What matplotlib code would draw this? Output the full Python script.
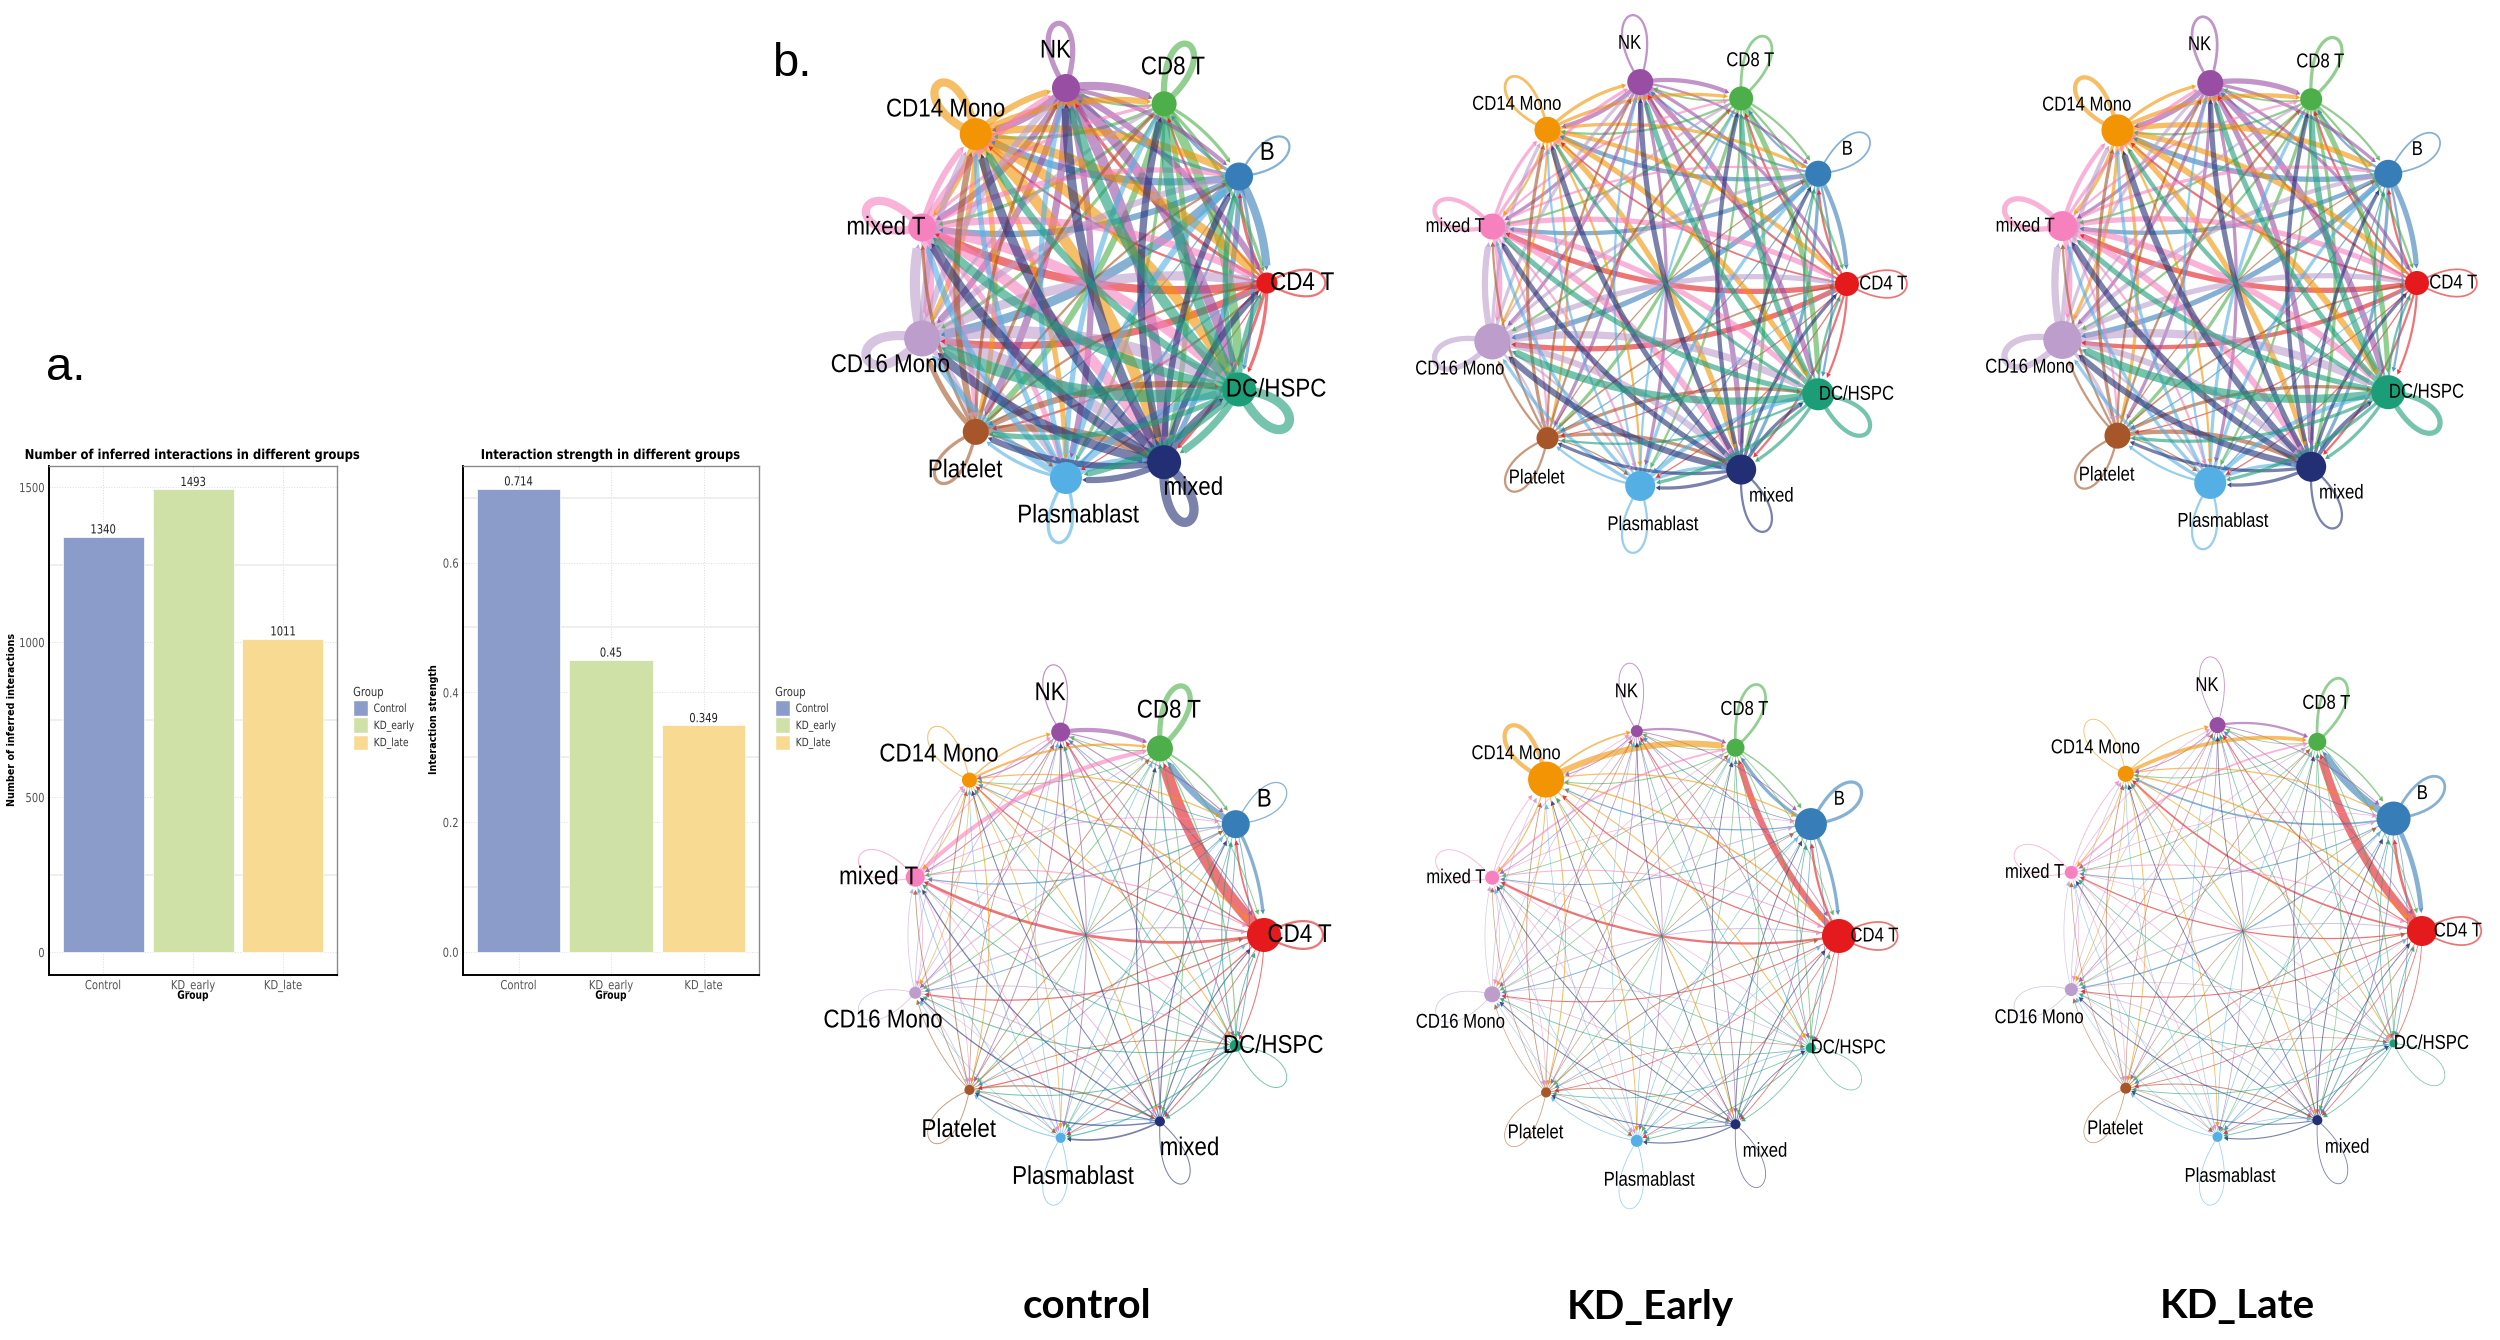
import numpy as np
import matplotlib
matplotlib.use('Agg')
import matplotlib.pyplot as plt
from matplotlib.patches import Ellipse, Patch, PathPatch
from matplotlib.path import Path
from matplotlib.patheffects import AbstractPathEffect
from matplotlib.transforms import Affine2D

W, H = 2500, 1340

groups = ['Control', 'KD_early', 'KD_late']
group_colors = ['#8B9CCB', '#D0E1A7', '#F8DA93']
n_interactions = [1340, 1493, 1011]
strength = [0.714, 0.45, 0.349]

cells = ['CD4 T', 'B', 'CD8 T', 'NK', 'CD14 Mono', 'mixed T', 'CD16 Mono',
         'Platelet', 'Plasmablast', 'mixed', 'DC/HSPC']
cell_colors = ['#E41A1C', '#377EB8', '#4DAF4A', '#984EA3', '#F29403', '#F781BF',
               '#BC9DCC', '#A65628', '#54B0E4', '#222F75', '#1B9E77']

# edge widths, rows = source, columns = target, diagonal = loop
count_control = [
    [2, 3, 2, 3, 2, 8, 7, 2, 1, 3, 3],
    [8, 2, 3, 3, 7, 6, 9, 1, 2, 5, 3],
    [3, 3, 6, 2, 3, 3, 3, 6, 3, 5, 9],
    [6, 4, 8, 5, 7, 6, 6, 7, 6, 10, 10],
    [9, 7, 6, 6, 8, 5, 5, 5, 5, 11, 10],
    [7, 5, 3, 6, 6, 8, 9, 5, 5, 11, 10],
    [9, 6, 3, 6, 6, 10, 9, 5, 5, 11, 12],
    [2, 2, 3, 3, 6, 3, 5, 3, 2, 7, 6],
    [2, 6, 5, 5, 5, 6, 6, 3, 3, 6, 7],
    [6, 6, 7, 9, 9, 9, 9, 6, 6, 9, 7],
    [5, 5, 10, 10, 7, 9, 12, 5, 6, 7, 9],
]
count_early = [
    [1.5, 2, 2, 2, 1.5, 5, 5, 1, 1, 2, 2],
    [4, 1.5, 2, 2, 4, 4, 5, 1, 1, 3, 2],
    [2, 2, 2.5, 1.5, 2, 2, 2, 3, 2, 3, 5],
    [3, 2, 4, 2, 4, 3, 3, 3, 3, 5, 5],
    [4, 3, 3, 3, 2.5, 2, 2, 2, 2, 5, 5],
    [5, 2, 2, 3, 3, 4, 5, 2, 2, 6, 5],
    [5, 3, 2, 3, 3, 6, 5, 2, 2, 6, 7],
    [1.5, 1, 2, 2, 3, 2, 2, 2, 1, 3, 3],
    [1, 3, 2, 2, 2, 3, 3, 2, 2, 3, 4],
    [3, 3, 4, 5, 5, 5, 6, 3, 3, 2, 3],
    [2, 2, 5, 5, 3, 5, 7, 2, 3, 3, 4],
]
count_late = [
    [1.5, 2, 2, 2, 2, 5, 4, 1, 1, 2, 2],
    [5, 1.5, 2, 2, 5, 4, 5, 1, 1, 3, 2],
    [2, 2, 3, 1.5, 2, 2, 2, 3, 2, 3, 5],
    [3, 3, 5, 2.5, 5, 3, 3, 3, 3, 5, 6],
    [5, 5, 4, 3, 4, 3, 3, 3, 2, 5, 6],
    [5, 3, 2, 3, 4, 5, 5, 2, 2, 6, 6],
    [5, 4, 2, 3, 4, 7, 6, 3, 2, 6, 8],
    [1.5, 1, 2, 2, 3, 2, 2, 2, 1, 4, 3],
    [1, 3, 3, 2, 3, 3, 3, 2, 2, 3, 4],
    [3, 3, 4, 5, 6, 6, 6, 3, 3, 2, 4],
    [2, 2, 6, 5, 4, 5, 8, 3, 3, 3, 5],
]
weight_control = [
    [2, 1.5, 11, 1, 1, 2.5, 1, 1, .6, .8, .8],
    [3, 1, 6, .6, .8, 1, .7, .5, .5, .7, .7],
    [.7, 1.5, 5, .7, .7, .7, .7, .6, .6, .7, .9],
    [.9, .9, 4, 1, 1, .8, .7, .7, .7, .9, .7],
    [1.2, 1, 2, 1.2, .8, .7, .5, .8, .6, .7, .8],
    [1, .7, 4, .7, .7, .8, .5, .5, .5, .7, .6],
    [1, 1, .6, .7, .6, .5, .5, .6, .4, .8, .7],
    [1, .6, .7, .5, .8, .6, .6, .7, .4, 1.2, .6],
    [.6, .6, .6, .5, .5, .6, .4, .8, .6, .7, .8],
    [.9, .9, .8, .9, .7, 1, 1, 1.2, 1.5, .8, .8],
    [.8, .9, .9, .7, .7, .7, .8, .8, 1, .8, .7],
]
weight_early = [
    [1.5, 2, 6, .8, 1, 2, .8, .6, .5, .6, .6],
    [3, 3, 3, .6, 1, .8, .7, .4, .5, .6, .5],
    [.6, 1.2, 2.5, .6, .8, .6, .5, .5, .5, .5, .7],
    [.6, .7, 2, .7, .7, .5, .5, .5, .5, .6, .5],
    [1.2, 1, 6, 1.5, 4, 1, .7, .8, .7, .8, .8],
    [.8, .5, 1.5, .5, .6, .6, .4, .4, .4, .5, .4],
    [.8, .8, .5, .5, .5, .4, .5, .4, .4, .6, .5],
    [.8, .4, .5, .4, .6, .4, .4, .5, .3, .8, .4],
    [.4, .5, .5, .4, .4, .4, .3, .5, .5, .5, .6],
    [.7, .7, .6, .6, .6, .7, .7, .8, 1, .6, .6],
    [.6, .6, .6, .5, .5, .5, .6, .6, .7, .6, .5],
]
weight_late = [
    [1.5, 2.5, 8, .8, 1.5, 1, .8, .5, .5, .6, .6],
    [4.5, 2.5, 7, .7, 1.5, .8, 1, .5, .6, .8, .6],
    [.6, 1.2, 2.5, .6, .7, .6, .5, .5, .5, .5, .7],
    [.6, .7, 2, .6, .7, .5, .5, .5, .4, .6, .5],
    [1.2, 1, 3.5, .8, .6, .6, .5, .7, .6, .7, .7],
    [.8, .5, 1.5, .5, .6, .6, .4, .4, .4, .5, .4],
    [.8, .8, .5, .5, .5, .4, .5, .4, .4, .6, .5],
    [.8, .4, .5, .4, .6, .4, .4, .5, .3, .8, .4],
    [.4, .5, .5, .4, .4, .4, .3, .5, .5, .5, .6],
    [.7, .7, .6, .6, .6, .7, .7, .8, .9, .6, .6],
    [.6, .6, .6, .5, .5, .5, .6, .6, .7, .6, .5],
]

node_count_control = [10.5, 14, 12.5, 14, 16, 14, 18, 13, 16, 17, 17]
node_count_early = [12, 13, 12, 13, 13, 13, 18, 11, 15, 15, 16]
node_count_late = [12, 14, 11, 13, 16, 15, 19, 13, 16, 15, 17]
node_weight_control = [17, 14, 13, 9.5, 7.5, 9.5, 6, 5, 5, 5, 6]
node_weight_early = [17, 16, 9, 6, 18, 7, 8, 5, 6, 5, 5]
node_weight_late = [15, 17, 9, 8, 8, 6.5, 6.5, 5.5, 5, 5, 4]

# label position relative to its node, in circle units
label_dx = [.20, .16, .05, -.06, -.17, -.205, -.18, -.06, .07, .167, .21]
label_dy = [0, .12, .185, .19, .125, 0, -.135, -.195, -.19, -.13, 0]

plt.rcParams['font.family'] = 'DejaVu Sans'
fig = plt.figure(figsize=(W / 100, H / 100), dpi=100, facecolor='white')


class Squeeze(AbstractPathEffect):
    # the source picture was stretched, so the glyphs are narrower than any installed font
    def __init__(self, sx, anchor='center'):
        super().__init__()
        self.sx = sx
        self.anchor = anchor

    def draw_path(self, renderer, gc, tpath, affine, rgbFace=None):
        ext = tpath.get_extents()
        x = {'left': ext.x0, 'right': ext.x1, 'center': (ext.x0 + ext.x1) / 2}[self.anchor]
        squeeze = Affine2D().translate(-x, 0).scale(self.sx, 1).translate(x, 0)
        renderer.draw_path(gc, tpath, squeeze + affine, rgbFace)


def px_axes(x0, y0, x1, y1):
    return fig.add_axes([x0 / W, 1 - y1 / H, (x1 - x0) / W, (y1 - y0) / H])


def bar_panel(box, values, ylim, major, minor, title, ylabel, title_x, ylab_x, legend_x):
    ax = px_axes(*box)
    xs = np.arange(1, 4)
    ax.bar(xs, values, width=0.9, color=group_colors, edgecolor='white', linewidth=0.5, zorder=3)
    ax.set_xlim(0.4, 3.6)
    ax.set_ylim(*ylim)
    ax.set_xticks(xs, groups)
    ax.set_yticks(major)
    ax.set_yticks(minor, minor=True)
    ax.yaxis.set_major_formatter(lambda v, p: f'{v:g}' if major[-1] > 10 else f'{v:.1f}')
    ax.tick_params(which='both', length=0)
    ax.tick_params(axis='both', labelsize=9, labelcolor='#555555', pad=3)
    for lab in ax.get_xticklabels():
        lab.set_path_effects([Squeeze(0.8)])
    for lab in ax.get_yticklabels():
        lab.set_path_effects([Squeeze(0.8, 'right')])
    ax.grid(axis='y', which='minor', color='#ececec', lw=1.2, zorder=0)
    ax.grid(axis='y', which='major', color='#dddddd', lw=0.7, ls=':', zorder=0)
    ax.grid(axis='x', which='major', color='#dddddd', lw=0.7, ls=':', zorder=0)
    for s in ['top', 'right']:
        ax.spines[s].set_color('#8a8a8a')
        ax.spines[s].set_linewidth(1.0)
    for s in ['left', 'bottom']:
        ax.spines[s].set_color('black')
        ax.spines[s].set_linewidth(1.4)
    for x, v in zip(xs, values):
        ax.annotate(f'{v:g}', (x, v), xytext=(0, 0.2), textcoords='offset points', ha='center',
                    va='bottom', fontsize=9, color='#222222', path_effects=[Squeeze(0.8)])
    ax.set_xlabel('Group', fontsize=8.2, fontweight='bold', labelpad=-1, path_effects=[Squeeze(0.8)])
    fig.text(ylab_x / W, 1 - 719 / H, ylabel, rotation=90, fontsize=6.9, fontweight='bold',
             ha='center', va='center')
    fig.text(title_x / W, 1 - 455 / H, title, fontsize=9.8, fontweight='bold', ha='center',
             va='center', path_effects=[Squeeze(0.85)])
    handles = [Patch(facecolor=c, edgecolor='white') for c in group_colors]
    leg = ax.legend(handles, groups, title='Group', frameon=False, fontsize=8.2, title_fontsize=9,
                    loc='upper left', bbox_to_anchor=(legend_x / W, 1 - 686 / H),
                    bbox_transform=fig.transFigure, handlelength=1.3, handleheight=1.75,
                    labelspacing=0.12, handletextpad=0.5, borderpad=0, borderaxespad=0,
                    alignment='left')
    for t in leg.get_texts():
        t.set_color('#333333')
        t.set_path_effects([Squeeze(0.8, 'left')])
    leg.get_title().set_color('#333333')
    leg.get_title().set_path_effects([Squeeze(0.8, 'left')])
    return ax


bar_panel((49, 466, 337, 975), n_interactions, (-74, 1568), [0, 500, 1000, 1500], [250, 750, 1250],
          'Number of inferred interactions in different groups', 'Number of inferred interactions',
          193, 12, 353)
bar_panel((463, 466, 759, 975), strength, (-0.0358, 0.749), [0, 0.2, 0.4, 0.6], [0.1, 0.3, 0.5, 0.7],
          'Interaction strength in different groups', 'Interaction strength', 611, 434, 775)

angles = 2 * np.pi * np.arange(len(cells)) / len(cells)
ux, uy = np.cos(angles), np.sin(angles)


def circle_panel(cx, cy, rx, ry, widths, node_r, label_size, label_sx):
    lim = 1.45
    ax = px_axes(cx - lim * rx, cy - lim * ry, cx + lim * rx, cy + lim * ry)
    ax.set_xlim(-lim, lim)
    ax.set_ylim(-lim, lim)
    ax.axis('off')
    widths = np.array(widths, dtype=float)
    t = np.linspace(0, 1, 80)
    n = len(cells)
    for i in range(n):
        # self loop, a petal pointing away from the centre
        a = angles[i]
        L, d = 0.5, np.radians(28)
        verts = [(ux[i], uy[i]),
                 (ux[i] + L * np.cos(a + d), uy[i] + L * np.sin(a + d)),
                 (ux[i] + L * np.cos(a - d), uy[i] + L * np.sin(a - d)),
                 (ux[i], uy[i])]
        ax.add_patch(PathPatch(Path(verts, [Path.MOVETO, Path.CURVE4, Path.CURVE4, Path.CURVE4]),
                               fc='none', ec=cell_colors[i], lw=(widths[i, i] + 0.25) * 0.72,
                               alpha=0.6, zorder=1))
        for j in range(n):
            if i == j:
                continue
            p0 = np.array([ux[i], uy[i]])
            p2 = np.array([ux[j], uy[j]])
            d_vec = p2 - p0
            # bow to the left of the travel direction, near-opposite edges then cross at the centre
            ctrl = (p0 + p2) / 2 + 0.145 * np.array([-d_vec[1], d_vec[0]])
            xs = (1 - t) ** 2 * p0[0] + 2 * t * (1 - t) * ctrl[0] + t ** 2 * p2[0]
            ys = (1 - t) ** 2 * p0[1] + 2 * t * (1 - t) * ctrl[1] + t ** 2 * p2[1]
            head = 0.024
            r_u = node_r[j] / rx
            keep = np.hypot(xs - p2[0], ys - p2[1]) > r_u + head
            xs, ys = xs[keep], ys[keep]
            ax.plot(xs, ys, color=cell_colors[i], lw=(widths[i, j] + 0.25) * 0.72, alpha=0.6,
                    solid_capstyle='butt', zorder=2)
            # small arrow head on the target node
            tip = np.array([xs[-1], ys[-1]])
            back = np.array([xs[-4], ys[-4]])
            dirn = (tip - back) / np.hypot(*(tip - back))
            nrm = np.array([-dirn[1], dirn[0]])
            tri = np.array([tip + dirn * head, tip + nrm * head * 0.55, tip - nrm * head * 0.55])
            ax.fill(tri[:, 0], tri[:, 1], color=cell_colors[i], alpha=0.85, lw=0, zorder=2.5)
    for i in range(n):
        ax.add_patch(Ellipse((ux[i], uy[i]), 2 * node_r[i] / rx, 2 * node_r[i] / ry,
                             fc=cell_colors[i], ec='none', zorder=3))
        ax.text(ux[i] + label_dx[i], uy[i] + label_dy[i], cells[i], fontsize=label_size,
                family='Liberation Sans', color='black', ha='center', va='center', zorder=4,
                path_effects=[Squeeze(label_sx)])
    return ax


circle_panel(1091, 283, 176, 197, count_control, node_count_control, 18.5, 0.87)
circle_panel(1666, 284, 181, 204, count_early, node_count_early, 14.5, 0.83)
circle_panel(2236, 283, 181, 202, count_late, node_count_late, 14.5, 0.83)
circle_panel(1086, 935, 178, 205, weight_control, node_weight_control, 18.5, 0.87)
circle_panel(1662, 936, 177, 207, weight_early, node_weight_early, 14.5, 0.83)
circle_panel(2243, 931, 179, 208, weight_late, node_weight_late, 14.5, 0.83)

fig.text(66 / W, 1 - 368 / H, 'a.', fontsize=34, family='Liberation Sans', ha='center', va='center')
fig.text(792 / W, 1 - 64 / H, 'b.', fontsize=34, family='Liberation Sans', ha='center', va='center')
for x, s in zip([1087, 1650, 2237], ['control', 'KD_Early', 'KD_Late']):
    fig.text(x / W, 1 - 1307 / H, s, fontsize=29, family='Lato', fontweight='bold', ha='center', va='center')

fig.savefig('out.png', dpi=100)
